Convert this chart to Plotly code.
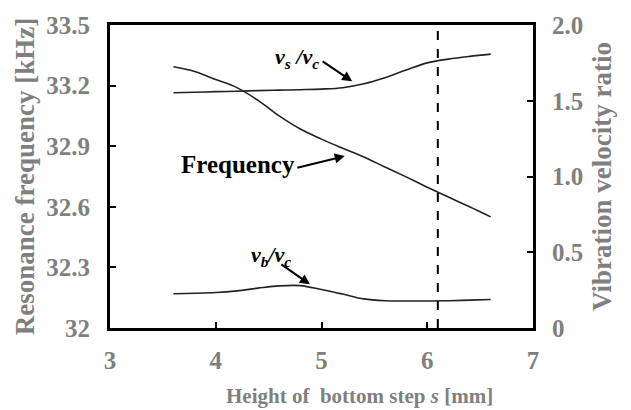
import plotly.graph_objects as go

# Height of the bottom step s [mm]
s_mm = [3.6, 3.8, 4.0, 4.2, 4.4, 4.6, 4.8, 5.0, 5.2, 5.4, 5.6, 5.8, 6.0, 6.2, 6.4, 6.6]
# Resonance frequency [kHz]
freq_khz = [33.293, 33.27, 33.23, 33.19, 33.127, 33.05, 32.985, 32.935, 32.89, 32.847,
            32.797, 32.748, 32.697, 32.648, 32.60, 32.55]
# Vibration velocity ratios
vs_vc = [1.553, 1.556, 1.56, 1.563, 1.567, 1.57, 1.573, 1.577, 1.586, 1.612,
         1.652, 1.703, 1.75, 1.775, 1.793, 1.808]
vb_vc = [0.226, 0.229, 0.234, 0.245, 0.263, 0.278, 0.28, 0.254, 0.224, 0.192,
         0.18, 0.178, 0.178, 0.18, 0.184, 0.188]
# Chosen step height (dashed marker)
s_selected = 6.1

x_ticks = [3, 4, 5, 6, 7]
x_tick_text = ["3", "4", "5", "6", "7"]
freq_ticks = [32.0, 32.3, 32.6, 32.9, 33.2, 33.5]
freq_tick_text = ["32", "32.3", "32.6", "32.9", "33.2", "33.5"]
ratio_ticks = [0, 0.5, 1.0, 1.5, 2.0]
ratio_tick_text = ["0", "0.5", "1.0", "1.5", "2.0"]

x_title = "<b>Height of&nbsp; bottom step <i>s</i> [mm]</b>"

SERIF = "Liberation Serif"
GRAY = "#7f7f7f"
INK = "#222222"


def bold(labels):
    return ["<b>%s</b>" % t for t in labels]


fig = go.Figure()
line_style = dict(color=INK, width=1.6, shape="spline", smoothing=1.0)
fig.add_trace(go.Scatter(x=s_mm, y=freq_khz, mode="lines", line=line_style, yaxis="y", name="Frequency"))
fig.add_trace(go.Scatter(x=s_mm, y=vs_vc, mode="lines", line=line_style, yaxis="y2", name="vs/vc"))
fig.add_trace(go.Scatter(x=s_mm, y=vb_vc, mode="lines", line=line_style, yaxis="y2", name="vb/vc"))

tick_font = dict(family=SERIF, size=25, color=GRAY)
axis_common = dict(showline=True, linecolor="black", linewidth=3, ticks="inside",
                   ticklen=6, tickwidth=2, tickcolor="black", showgrid=False,
                   zeroline=False, tickfont=tick_font)

fig.update_layout(
    width=631, height=410,
    margin=dict(l=110, r=98, t=16, b=82),
    paper_bgcolor="white", plot_bgcolor="white",
    showlegend=False,
    xaxis=dict(range=[3, 7], tickvals=x_ticks, ticktext=bold(x_tick_text), mirror=True,
               ticklabelstandoff=8, **axis_common),
    yaxis=dict(range=[32, 33.5], tickvals=freq_ticks, ticktext=bold(freq_tick_text),
               ticklabelstandoff=12,
               title=dict(text="<b>Resonance frequency [kHz]</b>",
                          font=dict(family=SERIF, size=27, color=GRAY), standoff=4),
               **axis_common),
    yaxis2=dict(range=[0, 2.0], tickvals=ratio_ticks, ticktext=bold(ratio_tick_text),
                overlaying="y", side="right", ticklabelstandoff=11,
                title=dict(text="<b>Vibration velocity ratio</b>",
                           font=dict(family=SERIF, size=27, color=GRAY), standoff=10),
                **axis_common),
)

# x-axis title, set slightly right of the plot centre
fig.add_annotation(xref="paper", yref="paper", x=0.591, y=-0.224, xanchor="center",
                   yanchor="middle", text=x_title, showarrow=False,
                   font=dict(family=SERIF, size=21, color=GRAY))

fig.add_shape(type="line", xref="x", yref="paper", x0=s_selected, x1=s_selected, y0=0, y1=1,
              line=dict(color="black", width=2, dash="dash"))

label_font = dict(family=SERIF, size=22, color="black")
fig.add_annotation(x=4.77, y=1.78, yref="y2",
                   text="<b><i>v<sub>s</sub> /v<sub>c</sub></i></b>",
                   showarrow=False, font=label_font)
fig.add_annotation(x=4.21, y=32.808, yref="y", text="<b>Frequency</b>", showarrow=False,
                   font=dict(family=SERIF, size=25, color="black"))
fig.add_annotation(x=4.52, y=0.474, yref="y2",
                   text="<b><i>v<sub>b</sub>/v<sub>c</sub></i></b>",
                   showarrow=False, font=label_font)

arrow = dict(text="", showarrow=True, arrowhead=2, arrowsize=1, arrowwidth=2,
             arrowcolor="black", axref="pixel", ayref="pixel")
fig.add_annotation(x=5.29, y=1.628, yref="y2", ax=-31, ay=-21, **arrow)
fig.add_annotation(x=5.22, y=32.851, yref="y", ax=-49, ay=12, **arrow)
fig.add_annotation(x=4.89, y=0.288, yref="y2", ax=-30, ay=-21, **arrow)

fig.write_html("out.html")
